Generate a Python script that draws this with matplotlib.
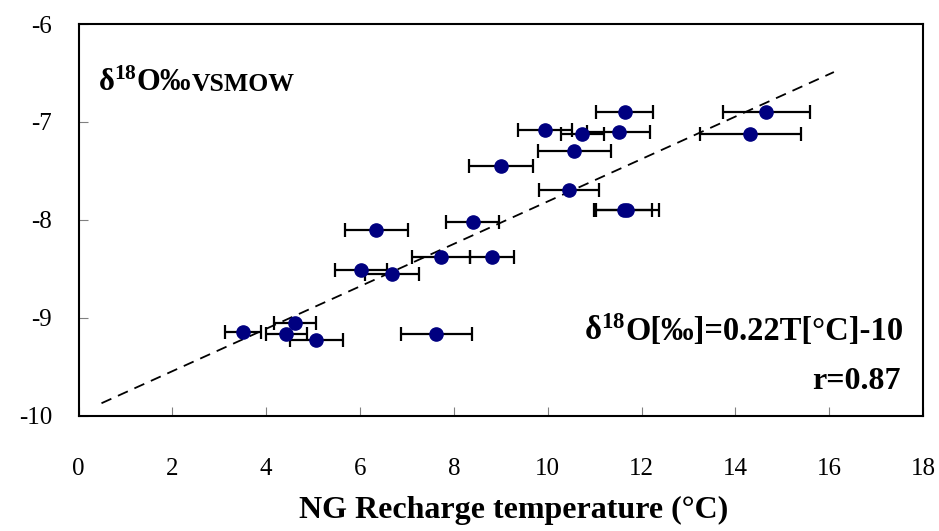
import matplotlib.pyplot as plt
import numpy as np

# recharge temperature (deg C) and delta18O (permil VSMOW)
temp = [11.64, 14.66, 9.94, 10.74, 11.51, 14.32, 10.57, 9.00, 10.45, 11.63, 11.68,
        8.40, 6.35, 7.72, 8.82, 6.02, 6.68, 3.50, 4.61, 4.43, 5.07, 7.63]
d18o = [-6.90, -6.90, -7.08, -7.12, -7.10, -7.12, -7.30, -7.45, -7.69, -7.90, -7.90,
        -8.02, -8.10, -8.38, -8.38, -8.51, -8.55, -9.14, -9.05, -9.16, -9.22, -9.16]
temp_err = [0.61, 0.93, 0.57, 0.45, 0.68, 1.07, 0.77, 0.68, 0.64, 0.60, 0.70,
            0.56, 0.68, 0.62, 0.47, 0.55, 0.58, 0.38, 0.45, 0.43, 0.56, 0.76]

# regression line
slope = 0.2165
intercept = -9.976
fit_range = [0.49, 16.1]

xticks = [0, 2, 4, 6, 8, 10, 12, 14, 16, 18]
yticks = [-10, -9, -8, -7, -6]

plt.rcParams['font.family'] = ['Liberation Serif', 'DejaVu Serif']
plt.rcParams['axes.unicode_minus'] = False
plt.rcParams['mathtext.fontset'] = 'custom'
plt.rcParams['mathtext.rm'] = 'Liberation Serif'
plt.rcParams['mathtext.bf'] = 'Liberation Serif:bold'

fig = plt.figure(figsize=(9.39, 5.31), dpi=100)
ax = fig.add_axes([0.0836, 0.2166, 0.8994, 0.7382])

xs = np.array(fit_range)
ax.plot(xs, slope * xs + intercept, color='black', lw=1.3, linestyle=(0, (6, 4)), zorder=1)

ax.errorbar(temp, d18o, xerr=temp_err, fmt='o', color='#000080', ms=9.5,
            ecolor='black', elinewidth=1.6, capsize=5, capthick=1.6, zorder=2)

ax.set_xlim(0, 18)
ax.set_ylim(-10, -6)
ax.set_xticks(xticks)
ax.set_yticks(yticks)
ax.tick_params(direction='in', length=6.5, width=0.8, color='#808080',
               labelsize=18, labelcolor='black')
ax.tick_params(axis='x', pad=30)
ax.tick_params(axis='y', pad=19)
for s in ax.spines.values():
    s.set_linewidth(1.5)

ax.set_xlabel('NG Recharge temperature (°C)', fontsize=23, fontweight='bold', labelpad=12)
ax.xaxis.label.set_x(0.515)

fig.canvas.draw()
inv = ax.transAxes.inverted()

# top-left label: delta18O permil, then smaller VSMOW on the same baseline
y_lab = 0.83
t1 = ax.text(0.023, y_lab, r'$\mathbf{δ^{18}O‰}$', transform=ax.transAxes,
             fontsize=22, ha='left', va='baseline')
fig.canvas.draw()
x1 = inv.transform((t1.get_window_extent().x1, 0))[0]
ax.text(x1, y_lab, 'VSMOW', transform=ax.transAxes,
        fontsize=18.5, fontweight='bold', ha='left', va='baseline')

# regression equation, right aligned; delta18 prefix placed before it
y_eq = 0.195
t2 = ax.text(0.977, y_eq, 'O[‰]=0.22T[°C]-10', transform=ax.transAxes,
             fontsize=23.5, fontweight='bold', ha='right', va='baseline')
fig.canvas.draw()
x0 = inv.transform((t2.get_window_extent().x0, 0))[0]
ax.text(x0, y_eq, r'$\mathbf{δ^{18}}$', transform=ax.transAxes,
        fontsize=23.5, ha='right', va='baseline')

ax.text(0.974, 0.068, 'r=0.87', transform=ax.transAxes,
        fontsize=23, ha='right', va='baseline', fontweight='bold')

fig.savefig('out.png', dpi=100)
